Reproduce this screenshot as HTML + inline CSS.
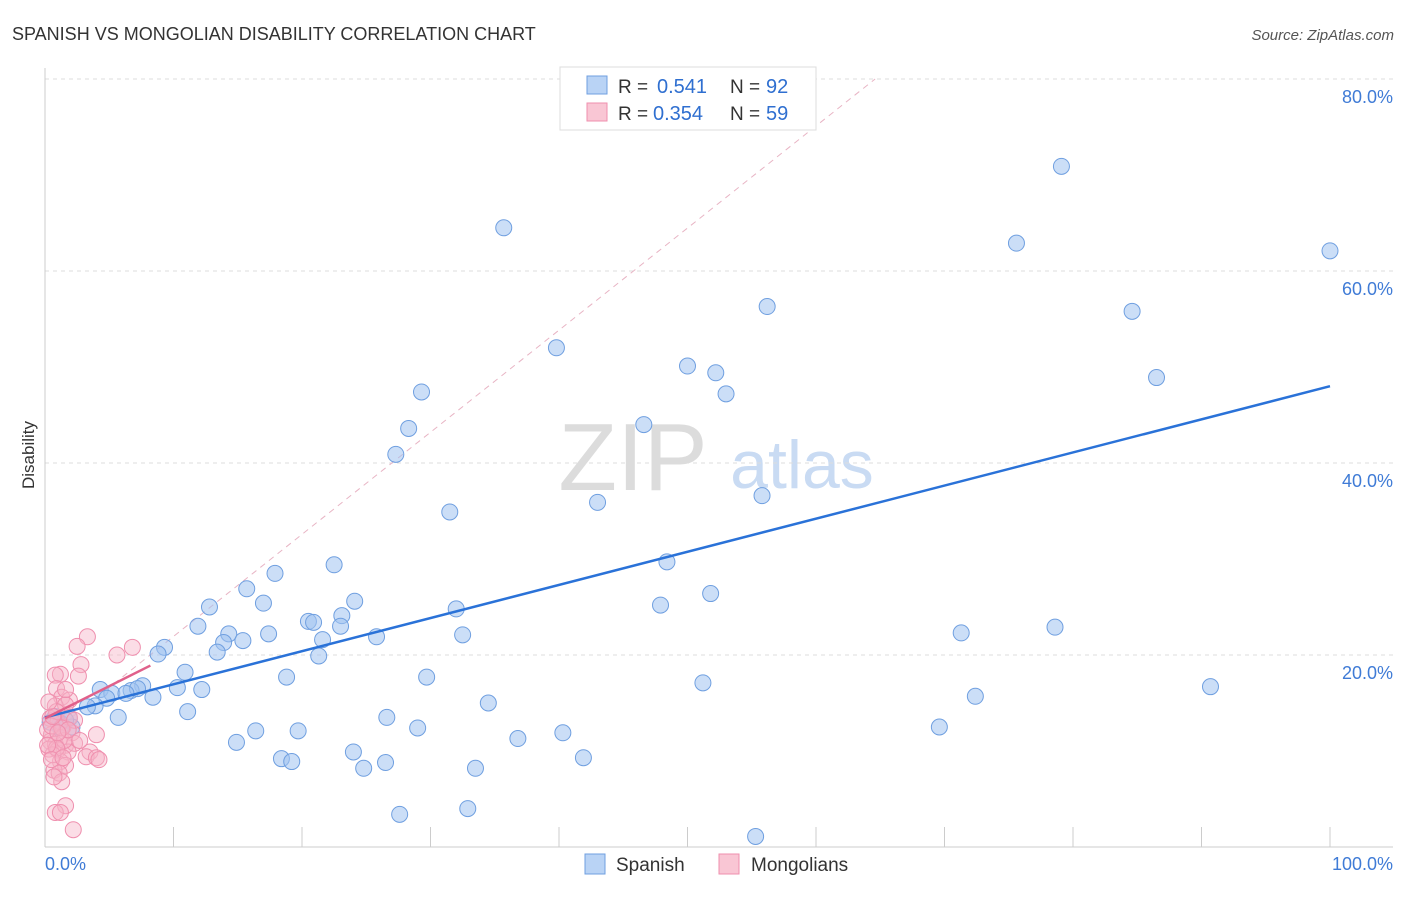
<!DOCTYPE html>
<html><head><meta charset="utf-8"><style>
body{margin:0;background:#fff;font-family:"Liberation Sans",sans-serif}
svg text{font-family:"Liberation Sans",sans-serif}
</style></head><body>
<svg id="chart" width="1406" height="892" viewBox="0 0 1406 892">
<text x="12" y="40" font-size="18" fill="#333">SPANISH VS MONGOLIAN DISABILITY CORRELATION CHART</text>
<text x="1394" y="40" font-size="15" fill="#555" font-style="italic" text-anchor="end">Source: ZipAtlas.com</text>
<text transform="translate(34,455) rotate(-90)" font-size="17" fill="#333" text-anchor="middle">Disability</text>
<g>
<text x="633" y="490" font-size="96" fill="#dcdcdc" font-family="Liberation Serif" text-anchor="middle">ZIP</text>
<text x="802" y="488" font-size="68" fill="#c9dbf3" text-anchor="middle">atlas</text>
</g>
<g id="grid"></g><g id="axes"></g><g id="lines"></g><g id="pts"></g>
<g>
<rect x="560" y="67" width="256" height="63" fill="#fff" stroke="#ddd"/>
<rect x="587" y="76" width="20" height="18" fill="#b9d3f5" stroke="#6f9fe0"/>
<text x="618" y="93" font-size="19" fill="#333">R =</text>
<text x="657" y="93" font-size="20" fill="#2f6fd0">0.541</text>
<text x="730" y="93" font-size="19" fill="#333">N =</text>
<text x="766" y="93" font-size="20" fill="#2f6fd0">92</text>
<rect x="587" y="103" width="20" height="18" fill="#f9c6d4" stroke="#ef8fae"/>
<text x="618" y="120" font-size="19" fill="#333">R =</text>
<text x="653" y="120" font-size="20" fill="#2f6fd0">0.354</text>
<text x="730" y="120" font-size="19" fill="#333">N =</text>
<text x="766" y="120" font-size="20" fill="#2f6fd0">59</text>
</g>
<g>
<rect x="585" y="854" width="20" height="20" fill="#b9d3f5" stroke="#6f9fe0"/>
<text x="616" y="871" font-size="19" fill="#333">Spanish</text>
<rect x="719" y="854" width="20" height="20" fill="#f9c6d4" stroke="#ef8fae"/>
<text x="751" y="871" font-size="19" fill="#333">Mongolians</text>
</g>
</svg>
<script>
const yTicks=[20,40,60,80];
const yTickLabels=["20.0%","40.0%","60.0%","80.0%"];
const xTicks=[10,20,30,40,50,60,70,80,90,100];
const xTickLabels=["0.0%","100.0%"];
const spanishX=[35.7,79.1,75.6,100,56.2,84.6,39.8,50.0,52.2,86.5,29.3,53.0,28.3,46.6,27.3,55.8,43.0,31.5,48.4,22.5,17.9,15.7,51.8,17.0,24.1,12.8,47.9,32.0,23.1,20.5,20.9,11.9,23.0,14.3,17.4,32.5,71.3,78.6,25.8,21.6,13.9,15.4,9.3,13.4,8.8,21.3,10.9,18.8,29.7,51.2,90.7,7.6,10.3,4.3,12.2,5.2,6.7,7.2,6.3,8.4,72.4,4.8,34.5,3.9,3.3,11.1,5.7,26.6,1.9,1.2,2.1,69.6,29.0,16.4,19.7,40.3,36.8,14.9,24.0,18.4,19.2,26.5,41.9,24.8,33.5,27.6,32.9,55.3,0.8,0.4,1.2,1.6];
const spanishY=[64.5,70.9,62.9,62.1,56.3,55.8,52.0,50.1,49.4,48.9,47.4,47.2,43.6,44.0,40.9,36.6,35.9,34.9,29.7,29.4,28.5,26.9,26.4,25.4,25.6,25.0,25.2,24.8,24.1,23.5,23.4,23.0,23.0,22.2,22.2,22.1,22.3,22.9,21.9,21.6,21.3,21.5,20.8,20.3,20.1,19.9,18.2,17.7,17.7,17.1,16.7,16.8,16.6,16.4,16.4,16.0,16.3,16.5,16.0,15.6,15.7,15.5,15.0,14.7,14.6,14.1,13.5,13.5,13.4,12.9,12.5,12.5,12.4,12.1,12.1,11.9,11.3,10.9,9.9,9.2,8.9,8.8,9.3,8.2,8.2,3.4,4.0,1.1,13.6,13.0,12.4,13.2];
const mongolX=[3.3,2.5,6.8,5.6,2.8,1.2,0.8,2.6,0.9,1.3,1.9,0.8,1.6,0.4,1.0,1.4,2.1,0.5,1.2,0.4,0.8,1.6,2.3,0.3,1.0,1.8,3.5,3.2,4.0,4.2,1.2,1.6,0.6,0.7,1.1,1.3,0.7,1.6,0.8,1.2,2.2,4.0,0.2,0.9,1.9,0.5,1.5,0.9,0.2,0.5,1.3,2.3,1.8,1.0,0.6,1.4,0.3,1.6,2.7];
const mongolY=[21.9,20.9,20.8,20.0,19.0,18.0,17.9,17.8,16.5,15.6,15.3,14.7,14.8,13.4,13.0,12.5,11.9,11.7,11.4,11.0,10.7,10.6,10.8,10.2,10.1,9.9,9.9,9.4,9.3,9.1,8.9,8.5,9.6,8.0,7.7,6.8,7.3,4.3,3.6,3.6,1.8,11.7,12.2,14.1,13.5,12.6,11.1,10.3,10.6,9.1,12.4,13.2,12.2,11.9,13.6,9.3,15.1,16.4,11.1];
const spanishFit=[13.5,48.0];
const mongolFit=[13.4,18.9];
const mongolFitEnd=8.2;
const refLine=[[0,11.3],[64.6,80]];

const NS="http://www.w3.org/2000/svg";
const sx=v=>45+v*12.85, sy=v=>847-v*9.6;
function mk(tag,attrs,parent){const e=document.createElementNS(NS,tag);for(const k in attrs)e.setAttribute(k,attrs[k]);document.getElementById(parent).appendChild(e);return e;}
yTicks.forEach((t,i)=>{
  const l=mk('line',{x1:45,x2:1393,y1:sy(t),y2:sy(t),stroke:'#ddd','stroke-dasharray':'4,4'},'grid');
  
  
  const tx=mk('text',{x:1393,y:sy(t)+24,'font-size':18,fill:'#3f7bd6','text-anchor':'end'},'grid');
  tx.textContent=yTickLabels[i];
  
  
});
const xa=mk('line',{x1:45,x2:1393,y1:847,y2:847,stroke:'#ccc'},'axes');


const ya=mk('line',{x1:45,x2:45,y1:68,y2:847,stroke:'#ccc'},'axes');


xTicks.forEach(t=>{
  const l=mk('line',{x1:sx(t),x2:sx(t),y1:827,y2:847,stroke:'#ccc'},'axes');
  
  
});
[[0,'start',45],[100,'end',1393]].forEach((d,i)=>{
  const tx=mk('text',{x:d[2],y:870,'font-size':18,fill:'#3f7bd6','text-anchor':d[1]},'axes');
  tx.textContent=xTickLabels[i];
  
  
});
const rl=mk('line',{x1:sx(refLine[0][0]),y1:sy(refLine[0][1]),x2:sx(refLine[1][0]),y2:sy(refLine[1][1]),stroke:'#e8b4c4','stroke-dasharray':'6,5','stroke-width':1},'lines');


spanishX.forEach((x,i)=>{
  const c=mk('circle',{cx:sx(x),cy:sy(spanishY[i]),r:8,fill:'rgba(160,195,240,0.55)',stroke:'#6f9fe0','stroke-width':1},'pts');
  
  
});
mongolX.forEach((x,i)=>{
  const c=mk('circle',{cx:sx(x),cy:sy(mongolY[i]),r:8,fill:'rgba(247,180,200,0.45)',stroke:'#ef8fae','stroke-width':1},'pts');
  
  
});
const bl=mk('line',{x1:sx(0),y1:sy(spanishFit[0]),x2:sx(100),y2:sy(spanishFit[1]),stroke:'#2a72d8','stroke-width':2.5},'pts');


const pl=mk('line',{x1:sx(0),y1:sy(mongolFit[0]),x2:sx(mongolFitEnd),y2:sy(mongolFit[1]),stroke:'#e0608a','stroke-width':2.5},'pts');


</script>
</body></html>
